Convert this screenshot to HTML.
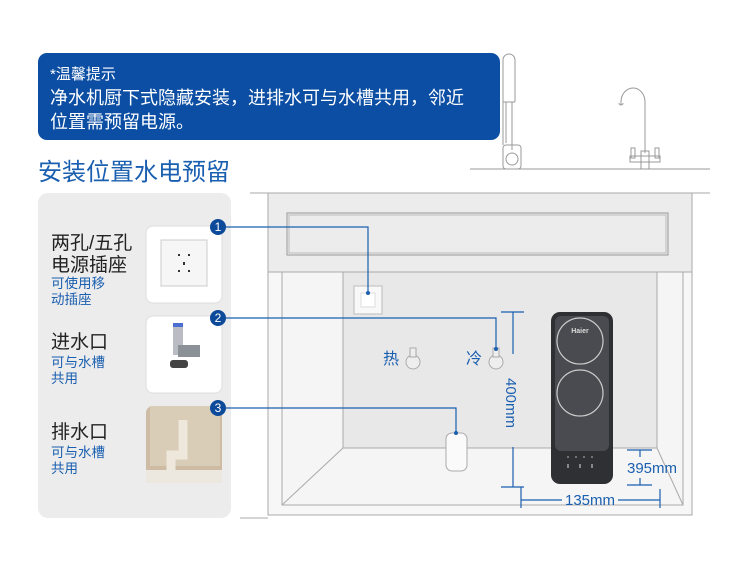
<!DOCTYPE html>
<html><head><meta charset="utf-8"><style>
html,body{margin:0;padding:0;background:#fff;}
svg{display:block;}
text{font-family:"Liberation Sans","Noto Sans CJK SC",sans-serif;}
</style></head><body>
<svg width="750" height="580" viewBox="0 0 750 580" xmlns="http://www.w3.org/2000/svg">
<rect width="750" height="580" fill="#fff"/>
<!-- faucets -->
<g fill="none" stroke="#999" stroke-width="1">
<line x1="470" y1="169" x2="710" y2="169"/>
<path d="M503,145 V60 a6,6 0 0 1 12,0 V102 M503,102 h12"/>
<path d="M506,102 V143 M512,102 V143 M512,133 V150"/>
<rect x="503" y="145" width="18" height="24" rx="3"/>
<circle cx="512" cy="159" r="6"/>
<path d="M645,153 V102 a12,14 0 0 0 -24,0 v3"/>
<path d="M619,103 a2,2 0 0 0 4,0"/>
<rect x="641" y="151" width="8" height="18"/>
<rect x="631" y="148" width="4" height="10"/><rect x="655" y="148" width="4" height="10"/>
<rect x="630" y="156" width="30" height="6"/>
</g>
<!-- banner -->
<rect x="38" y="53" width="462" height="87" rx="9" fill="#0b4ea3"/>
<text x="50" y="79" fill="#fff" font-size="15">*温馨提示</text>
<text x="50" y="104" fill="#fff" font-size="18">净水机厨下式隐藏安装，进排水可与水槽共用，邻近</text>
<text x="50" y="128" fill="#fff" font-size="18">位置需预留电源。</text>
<text x="38" y="180" fill="#1a5fb0" font-size="24">安装位置水电预留</text>

<!-- left panel -->
<rect x="38" y="193" width="193" height="325" rx="10" fill="#ececec"/>
<text x="51" y="249" font-size="19" fill="#222">两孔/五孔</text>
<text x="51" y="271" font-size="19" fill="#222">电源插座</text>
<text x="51" y="288" font-size="13.5" fill="#1a5fb0">可使用移</text>
<text x="51" y="304" font-size="13.5" fill="#1a5fb0">动插座</text>
<text x="51" y="348" font-size="19" fill="#222">进水口</text>
<text x="51" y="367" font-size="13.5" fill="#1a5fb0">可与水槽</text>
<text x="51" y="383" font-size="13.5" fill="#1a5fb0">共用</text>
<text x="51" y="438" font-size="19" fill="#222">排水口</text>
<text x="51" y="457" font-size="13.5" fill="#1a5fb0">可与水槽</text>
<text x="51" y="473" font-size="13.5" fill="#1a5fb0">共用</text>
<rect x="146" y="226" width="76" height="77" rx="7" fill="#fff" stroke="#ddd"/>
<rect x="161" y="240" width="46" height="46" fill="#f6f6f6" stroke="#ccc"/>
<g fill="#333"><rect x="178" y="254" width="2" height="2"/><rect x="188" y="254" width="2" height="2"/><rect x="183" y="262" width="2" height="3"/><rect x="178" y="270" width="2" height="2"/><rect x="188" y="270" width="2" height="2"/></g>
<rect x="146" y="316" width="76" height="77" rx="7" fill="#fff" stroke="#ddd"/>
<rect x="173" y="325" width="10" height="30" fill="#b9bcc2"/>
<rect x="173" y="323" width="10" height="4" fill="#4a6fd0"/>
<rect x="178" y="345" width="22" height="12" fill="#8c9097"/>
<rect x="170" y="360" width="18" height="8" rx="3" fill="#444"/>
<rect x="146" y="406" width="76" height="77" rx="7" fill="#cdbca3"/>
<rect x="150" y="406" width="70" height="60" fill="#d9cdb8"/>
<path d="M183,420 v35 h-12 v20" stroke="#eee8dc" stroke-width="9" fill="none"/>
<rect x="146" y="470" width="76" height="13" fill="#ece7df"/>

<!-- cabinet -->
<line x1="250" y1="193" x2="710" y2="193" stroke="#aaa"/>
<rect x="268" y="193" width="424" height="79" fill="#ececec" stroke="#aaa"/>
<rect x="287" y="213" width="381" height="42" fill="#ececec" stroke="#999"/>
<rect x="289" y="215" width="377" height="38" fill="none" stroke="#bbb"/>
<rect x="268" y="272" width="424" height="243" fill="#f7f7f7" stroke="#aaa"/>
<rect x="282" y="272" width="401" height="233" fill="#f5f5f5" stroke="#aaa"/>
<rect x="343" y="272" width="314" height="176" fill="#e8e8e8" stroke="#aaa"/>
<line x1="282" y1="505" x2="343" y2="448" stroke="#aaa"/>
<line x1="683" y1="505" x2="657" y2="448" stroke="#aaa"/>
<line x1="240" y1="518" x2="268" y2="518" stroke="#aaa"/>
<rect x="354" y="286" width="28" height="28" fill="#f8f8f8" stroke="#bbb"/>
<rect x="361" y="293" width="14" height="14" fill="#fff" stroke="#ddd"/>

<!-- valves -->
<text x="383" y="364" font-size="16" fill="#1a5fb0">热</text>
<circle cx="413" cy="362" r="7" fill="#eee" stroke="#aaa"/>
<rect x="410" y="348" width="6" height="9" fill="#eee" stroke="#aaa"/>
<text x="466" y="364" font-size="16" fill="#1a5fb0">冷</text>
<circle cx="496" cy="362" r="7" fill="#eee" stroke="#aaa"/>
<rect x="493" y="348" width="6" height="9" fill="#eee" stroke="#aaa"/>
<!-- drain -->
<rect x="446" y="433" width="21" height="38" rx="6" fill="#fafafa" stroke="#aaa"/>

<!-- device -->
<rect x="551" y="312" width="62" height="172" rx="9" fill="#2f3034"/>
<rect x="555" y="316" width="54" height="135" rx="6" fill="#4a4b50"/>
<circle cx="580" cy="341" r="23" fill="none" stroke="#ccc" stroke-width="1.2"/>
<circle cx="580" cy="393" r="23" fill="none" stroke="#ccc" stroke-width="1.2"/>
<text x="580" y="333" font-size="7" fill="#ddd" text-anchor="middle" font-weight="bold">Haier</text>
<g fill="#888"><circle cx="568" cy="457" r="1"/><circle cx="576" cy="457" r="1"/><circle cx="584" cy="457" r="1"/><circle cx="592" cy="457" r="1"/>
<rect x="567" y="464" width="2" height="4"/><rect x="579" y="464" width="2" height="4"/><rect x="591" y="464" width="2" height="4"/></g>

<!-- connectors -->
<g stroke="#1a5fb0" stroke-width="1.2" fill="none">
<polyline points="222,227 368,227 368,293"/>
<polyline points="222,318 496,318 496,349"/>
<polyline points="222,408 456,408 456,433"/>
<line x1="501" y1="312" x2="524" y2="312"/><line x1="513" y1="312" x2="513" y2="354"/>
<line x1="513" y1="447" x2="513" y2="487"/><line x1="501" y1="487" x2="524" y2="487"/>
<line x1="521" y1="487" x2="521" y2="508"/>
<line x1="521" y1="500" x2="562" y2="500"/><line x1="618" y1="500" x2="660" y2="500"/>
<line x1="660" y1="489" x2="660" y2="508"/>
<line x1="627" y1="450" x2="652" y2="450"/><line x1="640" y1="450" x2="640" y2="457"/>
<line x1="627" y1="485" x2="652" y2="485"/><line x1="640" y1="478" x2="640" y2="485"/>
</g>
<g fill="#1a5fb0"><circle cx="368" cy="293" r="2"/><circle cx="496" cy="349" r="2"/><circle cx="456" cy="433" r="2"/></g>
<text transform="translate(506,378) rotate(90)" font-size="15" fill="#1a5fb0">400mm</text>
<text x="627" y="473" font-size="15" fill="#1a5fb0">395mm</text>
<text x="565" y="505" font-size="15" fill="#1a5fb0">135mm</text>

<!-- badges -->
<g fill="#0d4a9a"><circle cx="218" cy="227" r="8"/><circle cx="218" cy="318" r="8"/><circle cx="218" cy="408" r="8"/></g>
<g fill="#fff" font-size="12" text-anchor="middle"><text x="218" y="231">1</text><text x="218" y="322">2</text><text x="218" y="412">3</text></g>
</svg>
</body></html>
